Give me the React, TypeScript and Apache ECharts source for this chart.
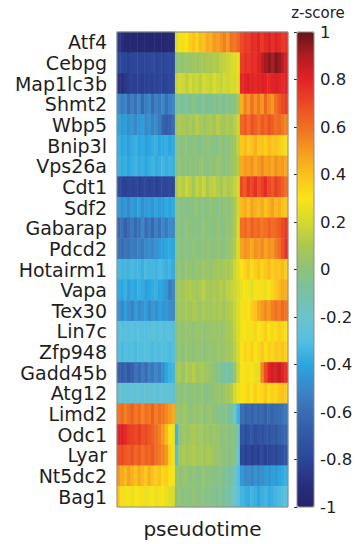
import React, { useEffect, useRef } from "react";
import * as echarts from "echarts";

const genes = [
  "Atf4", "Cebpg", "Map1lc3b", "Shmt2", "Wbp5", "Bnip3l", "Vps26a", "Cdt1",
  "Sdf2", "Gabarap", "Pdcd2", "Hotairm1", "Vapa", "Tex30", "Lin7c", "Zfp948",
  "Gadd45b", "Atg12", "Limd2", "Odc1", "Lyar", "Nt5dc2", "Bag1",
];

// z-score per pseudotime bin (50 bins), one array per gene
const atf4 = [
  -0.86, -0.9, -0.95, -0.96, -0.97, -0.96, -0.97, -0.97, -0.96, -0.97, -0.97, -0.96, -0.97, -0.97, -0.96, -0.97, -0.96,
  0.22, 0.28, 0.32, 0.3, 0.36, 0.4, 0.34, 0.42, 0.4, 0.46, 0.44, 0.5, 0.48, 0.52, 0.56, 0.5, 0.6, 0.58, 0.62,
  0.7, 0.74, 0.72, 0.78, 0.76, 0.8, 0.74, 0.78, 0.82, 0.76, 0.8, 0.78, 0.74, 0.76,
];
const cebpg = [
  -0.78, -0.8, -0.8, -0.82, -0.8, -0.79, -0.8, -0.81, -0.8, -0.79, -0.78, -0.8, -0.79, -0.8, -0.78, -0.77, -0.79,
  0.0, 0.03, 0.02, 0.05, 0.04, 0.07, 0.05, 0.09, 0.07, 0.1, 0.09, 0.12, 0.11, 0.14, 0.16, 0.18, 0.2, 0.22, 0.25,
  0.72, 0.76, 0.74, 0.78, 0.76, 0.8, 0.86, 0.92, 0.95, 0.9, 0.96, 0.93, 0.88, 0.82,
];
const map1lc3b = [
  -0.88, -0.9, -0.86, -0.84, -0.82, -0.83, -0.82, -0.84, -0.82, -0.8, -0.82, -0.81, -0.8, -0.82, -0.81, -0.8, -0.8,
  0.16, 0.2, 0.18, 0.14, 0.2, 0.16, 0.18, 0.14, 0.2, 0.18, 0.16, 0.22, 0.18, 0.16, 0.2, 0.18, 0.22, 0.2, 0.24,
  0.78, 0.8, 0.82, 0.8, 0.78, 0.8, 0.82, 0.8, 0.78, 0.8, 0.82, 0.8, 0.78, 0.8,
];
const shmt2 = [
  -0.48, -0.55, -0.5, -0.6, -0.52, -0.58, -0.5, -0.62, -0.54, -0.5, -0.6, -0.52, -0.56, -0.5, -0.58, -0.52, -0.5,
  -0.08, -0.05, -0.1, -0.04, -0.08, -0.02, -0.06, -0.1, -0.04, -0.06, -0.08, -0.02, -0.06, -0.04, -0.08, -0.02, -0.04, 0.0, 0.08,
  0.45, 0.55, 0.5, 0.6, 0.52, 0.58, 0.5, 0.62, 0.55, 0.5, 0.6, 0.65, 0.7, 0.72,
];
const wbp5 = [
  -0.4, -0.45, -0.42, -0.48, -0.44, -0.5, -0.45, -0.42, -0.5, -0.46, -0.52, -0.48, -0.55, -0.65, -0.68, -0.66, -0.6,
  0.07, 0.11, 0.09, 0.05, 0.11, 0.07, 0.13, 0.09, 0.05, 0.09, 0.11, 0.07, 0.13, 0.09, 0.07, 0.11, 0.09, 0.13, 0.18,
  0.62, 0.66, 0.6, 0.68, 0.64, 0.6, 0.66, 0.62, 0.68, 0.64, 0.6, 0.62, 0.58, 0.55,
];
const bnip3l = [
  -0.36, -0.4, -0.38, -0.42, -0.38, -0.36, -0.4, -0.38, -0.42, -0.4, -0.38, -0.36, -0.4, -0.38, -0.36, -0.4, -0.38,
  -0.04, 0.0, -0.02, 0.02, -0.04, 0.0, -0.02, -0.06, 0.0, 0.02, -0.02, 0.0, -0.04, 0.02, 0.0, -0.02, 0.04, 0.08, 0.15,
  0.38, 0.42, 0.36, 0.4, 0.44, 0.38, 0.4, 0.36, 0.42, 0.38, 0.4, 0.36, 0.34, 0.28,
];
const vps26a = [
  -0.35, -0.38, -0.36, -0.4, -0.37, -0.35, -0.38, -0.36, -0.4, -0.37, -0.35, -0.38, -0.36, -0.34, -0.37, -0.35, -0.36,
  -0.02, 0.02, 0.0, -0.04, 0.02, 0.0, -0.02, 0.04, 0.0, -0.02, 0.02, 0.0, 0.04, 0.02, -0.02, 0.0, 0.04, 0.08, 0.12,
  0.46, 0.5, 0.48, 0.52, 0.46, 0.5, 0.54, 0.48, 0.5, 0.46, 0.52, 0.48, 0.5, 0.46,
];
const cdt1 = [
  -0.76, -0.8, -0.82, -0.8, -0.81, -0.8, -0.82, -0.8, -0.79, -0.81, -0.8, -0.82, -0.8, -0.79, -0.8, -0.78, -0.8,
  0.1, 0.16, 0.12, 0.18, 0.14, 0.08, 0.16, 0.12, 0.18, 0.1, 0.14, 0.16, 0.12, 0.08, 0.14, 0.1, 0.12, 0.16, 0.2,
  0.7, 0.66, 0.74, 0.7, 0.76, 0.68, 0.72, 0.78, 0.7, 0.66, 0.72, 0.68, 0.64, 0.6,
];
const sdf2 = [
  -0.42, -0.48, -0.44, -0.5, -0.42, -0.46, -0.4, -0.48, -0.44, -0.42, -0.46, -0.4, -0.44, -0.42, -0.38, -0.4, -0.38,
  -0.04, 0.0, -0.02, -0.06, 0.0, -0.02, 0.02, -0.04, 0.0, -0.02, 0.02, 0.0, -0.04, 0.0, 0.02, -0.02, 0.04, 0.1, 0.18,
  0.42, 0.46, 0.4, 0.48, 0.44, 0.42, 0.46, 0.4, 0.44, 0.48, 0.42, 0.45, 0.4, 0.38,
];
const gabarap = [
  -0.62, -0.58, -0.65, -0.6, -0.55, -0.62, -0.58, -0.5, -0.6, -0.55, -0.62, -0.52, -0.58, -0.5, -0.55, -0.48, -0.5,
  -0.02, 0.0, -0.04, 0.02, 0.0, -0.02, 0.0, -0.04, 0.02, 0.0, -0.02, 0.0, 0.02, -0.02, 0.0, 0.02, 0.04, 0.1, 0.2,
  0.6, 0.62, 0.58, 0.64, 0.6, 0.62, 0.58, 0.6, 0.64, 0.6, 0.62, 0.65, 0.7, 0.74,
];
const pdcd2 = [
  -0.58, -0.6, -0.56, -0.58, -0.54, -0.56, -0.52, -0.55, -0.5, -0.48, -0.5, -0.46, -0.44, -0.42, -0.4, -0.38, -0.4,
  -0.04, 0.0, -0.02, 0.0, -0.04, 0.02, 0.0, -0.02, 0.0, 0.02, -0.02, 0.0, 0.02, 0.0, -0.02, 0.02, 0.06, 0.12, 0.22,
  0.48, 0.52, 0.5, 0.46, 0.52, 0.5, 0.54, 0.48, 0.52, 0.5, 0.56, 0.6, 0.68, 0.76,
];
const hotairm1 = [
  -0.32, -0.34, -0.33, -0.35, -0.32, -0.34, -0.33, -0.36, -0.32, -0.34, -0.33, -0.35, -0.32, -0.34, -0.36, -0.34, -0.38,
  0.0, 0.02, 0.0, 0.04, 0.02, 0.0, 0.04, 0.02, 0.06, 0.04, 0.02, 0.06, 0.08, 0.06, 0.1, 0.08, 0.12, 0.18, 0.24,
  0.3, 0.34, 0.38, 0.32, 0.36, 0.4, 0.34, 0.38, 0.42, 0.36, 0.4, 0.38, 0.42, 0.36,
];
const vapa = [
  -0.38, -0.4, -0.36, -0.42, -0.38, -0.4, -0.36, -0.38, -0.42, -0.4, -0.38, -0.36, -0.4, -0.42, -0.45, -0.55, -0.5,
  0.05, 0.09, 0.07, 0.11, 0.12, 0.09, 0.07, 0.11, 0.14, 0.09, 0.07, 0.11, 0.09, 0.12, 0.1, 0.14, 0.16, 0.18, 0.22,
  0.26, 0.3, 0.28, 0.24, 0.3, 0.28, 0.32, 0.26, 0.3, 0.34, 0.38, 0.42, 0.46, 0.44,
];
const tex30 = [
  -0.45, -0.5, -0.42, -0.48, -0.52, -0.44, -0.5, -0.46, -0.42, -0.5, -0.44, -0.48, -0.42, -0.46, -0.44, -0.48, -0.5,
  0.04, 0.08, 0.06, 0.1, 0.06, 0.11, 0.08, 0.04, 0.1, 0.08, 0.06, 0.11, 0.08, 0.1, 0.06, 0.11, 0.13, 0.17, 0.22,
  0.28, 0.32, 0.3, 0.36, 0.4, 0.46, 0.5, 0.54, 0.5, 0.56, 0.6, 0.56, 0.62, 0.58,
];
const lin7c = [
  -0.28, -0.3, -0.27, -0.29, -0.28, -0.3, -0.27, -0.29, -0.3, -0.28, -0.27, -0.29, -0.28, -0.3, -0.28, -0.27, -0.29,
  0.0, 0.03, 0.01, 0.04, 0.03, 0.01, 0.04, 0.03, 0.01, 0.04, 0.03, 0.06, 0.04, 0.03, 0.06, 0.08, 0.1, 0.16, 0.22,
  0.28, 0.3, 0.32, 0.28, 0.34, 0.3, 0.32, 0.36, 0.3, 0.34, 0.32, 0.36, 0.34, 0.3,
];
const zfp948 = [
  -0.3, -0.32, -0.3, -0.31, -0.29, -0.32, -0.3, -0.31, -0.29, -0.3, -0.32, -0.3, -0.31, -0.29, -0.3, -0.32, -0.3,
  0.0, 0.02, 0.0, 0.03, 0.02, 0.0, 0.02, 0.03, 0.0, 0.02, 0.03, 0.02, 0.05, 0.03, 0.05, 0.07, 0.09, 0.14, 0.2,
  0.3, 0.34, 0.32, 0.36, 0.3, 0.34, 0.38, 0.32, 0.36, 0.34, 0.38, 0.36, 0.4, 0.34,
];
const gadd45b = [
  -0.66, -0.68, -0.64, -0.7, -0.66, -0.58, -0.62, -0.55, -0.6, -0.52, -0.56, -0.5, -0.54, -0.48, -0.4, -0.36, -0.34,
  0.06, 0.1, 0.04, 0.12, 0.08, 0.13, 0.06, 0.1, 0.08, 0.05, 0.03, 0.01, -0.02, -0.06, -0.1, -0.12, -0.08, 0.04, 0.18,
  0.3, 0.28, 0.32, 0.3, 0.26, 0.24, 0.55, 0.7, 0.8, 0.84, 0.82, 0.86, 0.8, 0.76,
];
const atg12 = [
  -0.24, -0.25, -0.24, -0.26, -0.25, -0.24, -0.25, -0.26, -0.24, -0.25, -0.24, -0.26, -0.25, -0.24, -0.25, -0.24, -0.26,
  -0.02, 0.0, 0.02, 0.0, -0.02, 0.02, 0.0, 0.02, 0.0, -0.02, 0.0, 0.02, 0.04, 0.02, 0.06, 0.08, 0.12, 0.2, 0.26,
  0.3, 0.32, 0.34, 0.3, 0.36, 0.32, 0.34, 0.38, 0.32, 0.36, 0.34, 0.38, 0.4, 0.36,
];
const limd2 = [
  0.58, 0.62, 0.56, 0.6, 0.64, 0.58, 0.62, 0.55, 0.6, 0.58, 0.64, 0.56, 0.6, 0.58, 0.54, 0.5, 0.46,
  0.04, 0.02, 0.06, 0.04, 0.0, 0.04, 0.02, 0.06, 0.0, 0.02, 0.04, 0.0, -0.02, -0.04, -0.02, -0.06, -0.1, -0.2, -0.35,
  -0.6, -0.64, -0.62, -0.66, -0.6, -0.64, -0.62, -0.66, -0.6, -0.64, -0.62, -0.6, -0.58, -0.56,
];
const odc1 = [
  0.8, 0.82, 0.78, 0.74, 0.72, 0.7, 0.74, 0.68, 0.7, 0.66, 0.64, 0.6, 0.56, 0.5, 0.42, 0.3, 0.28,
  -0.35, 0.02, 0.06, 0.04, 0.08, 0.1, 0.06, 0.09, 0.04, 0.07, 0.02, 0.06, 0.04, 0.0, 0.02, -0.02, 0.0, -0.04, -0.15,
  -0.72, -0.76, -0.74, -0.7, -0.76, -0.72, -0.74, -0.7, -0.72, -0.68, -0.7, -0.66, -0.64, -0.62,
];
const lyar = [
  0.68, 0.7, 0.66, 0.64, 0.68, 0.62, 0.66, 0.6, 0.64, 0.62, 0.66, 0.6, 0.58, 0.55, 0.5, 0.35, 0.28,
  -0.3, 0.08, 0.11, 0.06, 0.1, 0.12, 0.08, 0.11, 0.06, 0.1, 0.08, 0.05, 0.04, 0.02, 0.0, -0.02, 0.0, -0.04, -0.2,
  -0.8, -0.82, -0.8, -0.84, -0.8, -0.82, -0.78, -0.82, -0.8, -0.78, -0.8, -0.76, -0.74, -0.7,
];
const nt5dc2 = [
  0.5, 0.46, 0.42, 0.48, 0.44, 0.4, 0.46, 0.42, 0.38, 0.44, 0.4, 0.36, 0.4, 0.34, 0.36, 0.32, 0.3,
  0.02, 0.0, 0.04, 0.02, 0.0, 0.02, -0.02, 0.0, 0.02, 0.0, -0.02, 0.0, -0.04, -0.02, -0.06, -0.08, -0.1, -0.18, -0.3,
  -0.45, -0.5, -0.48, -0.52, -0.46, -0.5, -0.48, -0.44, -0.46, -0.42, -0.44, -0.4, -0.38, -0.36,
];
const bag1 = [
  0.38, 0.32, 0.28, 0.3, 0.26, 0.3, 0.28, 0.32, 0.26, 0.28, 0.3, 0.26, 0.28, 0.3, 0.26, 0.24, 0.22,
  0.0, 0.02, 0.0, -0.02, 0.0, 0.02, 0.0, -0.02, 0.0, -0.04, -0.02, -0.04, -0.06, -0.04, -0.08, -0.1, -0.14, -0.2, -0.28,
  -0.34, -0.36, -0.38, -0.34, -0.36, -0.4, -0.36, -0.34, -0.38, -0.36, -0.34, -0.32, -0.3, -0.28,
];

const rows = [
  atf4, cebpg, map1lc3b, shmt2, wbp5, bnip3l, vps26a, cdt1, sdf2, gabarap, pdcd2,
  hotairm1, vapa, tex30, lin7c, zfp948, gadd45b, atg12, limd2, odc1, lyar, nt5dc2, bag1,
];

const pseudotimeBins = atf4.map((_, i) => String(i + 1));

// colour scale from -1 to 1
const zscoreColors = [
  "#24246a", "#282f80", "#2c4699", "#3158a5", "#3a6cb3", "#3a88c8", "#2aa6e0",
  "#55bfe0", "#6cc3cc", "#78c1a4", "#8dc27c", "#aac852", "#d4da2e", "#f8e416",
  "#fbc11c", "#f69a1f", "#f06f22", "#eb4824", "#e32227", "#b01c22", "#641618",
];

const FONT = "DejaVu Sans";
const TEXT = "#1e1e1e";

export default function App() {
  const ref = useRef<HTMLDivElement>(null);

  useEffect(() => {
    document.body.style.margin = "0";
    const chart = echarts.init(ref.current!, null, { renderer: "svg" });

    const data: number[][] = [];
    rows.forEach((row, r) => row.forEach((v, c) => data.push([c, r, v])));

    const G = { left: 117, top: 32, width: 171, height: 475 };
    const CB = { left: 297, top: 32, width: 17, height: 475 };

    chart.setOption({
      animation: false,
      textStyle: { fontFamily: FONT },
      grid: [
        { left: G.left, top: G.top, width: G.width, height: G.height },
        { left: CB.left, top: CB.top, width: CB.width, height: CB.height },
      ],
      xAxis: [
        {
          type: "category",
          gridIndex: 0,
          data: pseudotimeBins,
          name: "pseudotime",
          nameLocation: "middle",
          nameGap: 12,
          nameTextStyle: { fontSize: 20, color: TEXT, fontFamily: FONT },
          axisLabel: { show: false },
          axisTick: { show: false },
          axisLine: { show: false },
          splitLine: { show: false },
        },
        { type: "value", gridIndex: 1, min: 0, max: 1, show: false },
      ],
      yAxis: [
        {
          type: "category",
          gridIndex: 0,
          data: genes,
          inverse: true,
          z: 10,
          axisLabel: { interval: 0, fontSize: 19, color: TEXT, margin: 10, fontFamily: FONT },
          axisTick: { interval: 0, inside: true, alignWithLabel: true, length: 4, lineStyle: { color: "#333" } },
          axisLine: { show: false },
          splitLine: { show: false },
        },
        {
          type: "category",
          gridIndex: 0,
          data: genes,
          inverse: true,
          position: "right",
          z: 10,
          axisLabel: { show: false },
          axisTick: { interval: 0, inside: true, alignWithLabel: true, length: 4, lineStyle: { color: "#333" } },
          axisLine: { show: false },
          splitLine: { show: false },
        },
        {
          type: "value",
          gridIndex: 1,
          min: -1,
          max: 1,
          interval: 0.2,
          position: "right",
          z: 10,
          axisLabel: { fontSize: 16.5, color: TEXT, margin: 6, fontFamily: FONT },
          axisTick: { inside: true, length: 3, lineStyle: { color: "#333" } },
          axisLine: { show: false },
          splitLine: { show: false },
        },
      ],
      visualMap: {
        type: "continuous",
        seriesIndex: 0,
        min: -1,
        max: 1,
        calculable: false,
        orient: "vertical",
        left: CB.left,
        top: CB.top,
        itemWidth: CB.width,
        itemHeight: CB.height,
        padding: 0,
        hoverLink: false,
        inRange: { color: zscoreColors },
      },
      series: [
        {
          type: "heatmap",
          xAxisIndex: 0,
          yAxisIndex: 0,
          data,
          progressive: 0,
          emphasis: { disabled: true },
        },
        { type: "scatter", xAxisIndex: 1, yAxisIndex: 2, data: [] },
      ],
      graphic: [
        {
          type: "rect",
          z: 100,
          silent: true,
          shape: { x: G.left, y: G.top, width: G.width, height: G.height },
          style: { fill: "none", stroke: "#8c8c8c", lineWidth: 1 },
        },
        {
          type: "rect",
          z: 100,
          silent: true,
          shape: { x: CB.left, y: CB.top, width: CB.width, height: CB.height },
          style: { fill: "none", stroke: "#8c8c8c", lineWidth: 1 },
        },
        {
          type: "text",
          z: 100,
          x: 318,
          y: 13,
          style: {
            text: "z-score",
            fontSize: 15,
            fontFamily: FONT,
            fill: TEXT,
            align: "center",
            verticalAlign: "middle",
          },
        },
      ],
    });

    return () => chart.dispose();
  }, []);

  return <div ref={ref} style={{ width: 356, height: 544 }} />;
}
